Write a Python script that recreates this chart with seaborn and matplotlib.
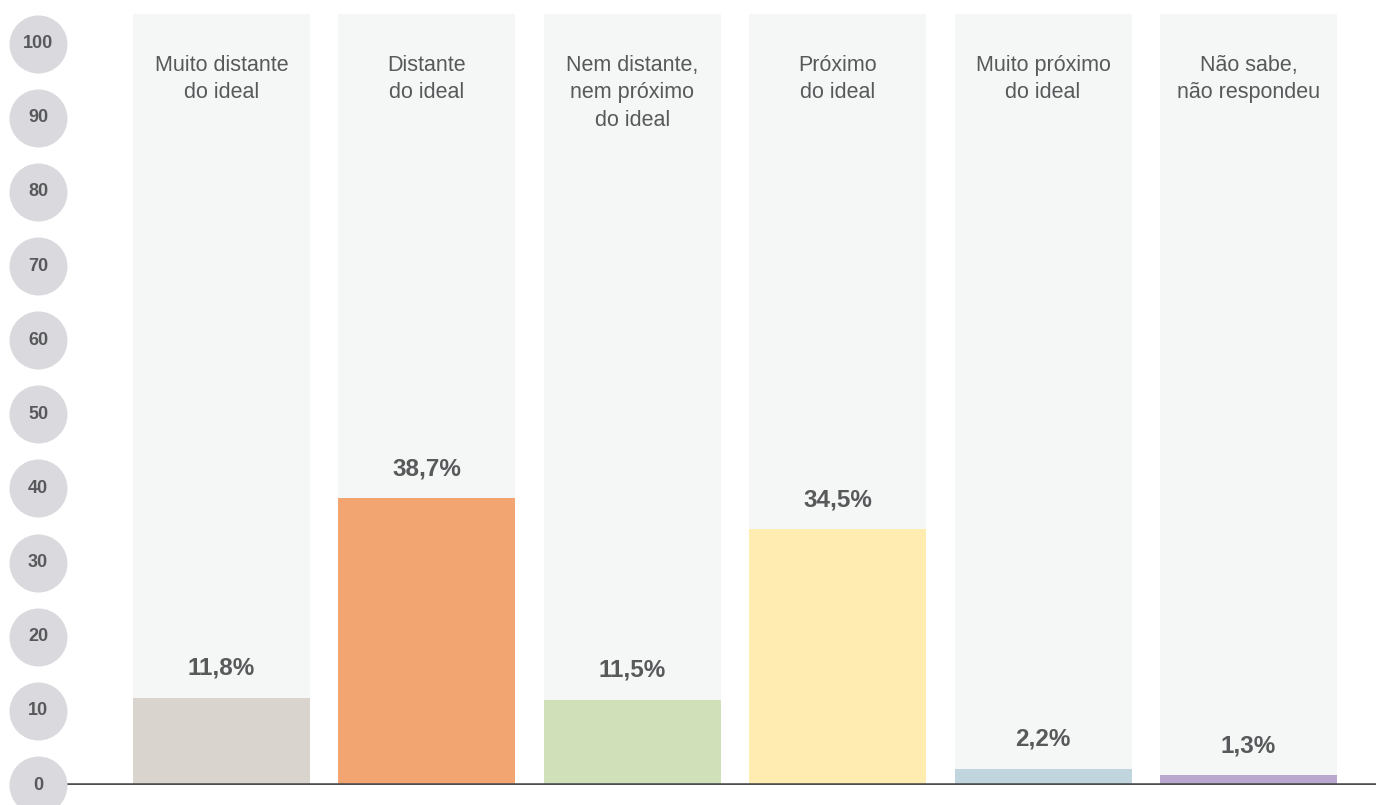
import matplotlib
matplotlib.use("Agg")
import matplotlib.pyplot as plt
import seaborn as sns
import pandas as pd

categories = [
    "Muito distante\ndo ideal",
    "Distante\ndo ideal",
    "Nem distante,\nnem próximo\ndo ideal",
    "Próximo\ndo ideal",
    "Muito próximo\ndo ideal",
    "Não sabe,\nnão respondeu",
]
values = [11.8, 38.7, 11.5, 34.5, 2.2, 1.3]
value_labels = ["11,8%", "38,7%", "11,5%", "34,5%", "2,2%", "1,3%"]
bar_colors = ["#d9d4cd", "#f2a571", "#d0e0b8", "#feecb0", "#c0d5de", "#b9a7d0"]
y_ticks = [0, 10, 20, 30, 40, 50, 60, 70, 80, 90, 100]

sns.set_theme(style="white")
plt.rcParams["font.family"] = ["Liberation Sans Narrow", "Liberation Sans", "DejaVu Sans"]

TEXT = "#58595b"
W, H = 1376, 805
fig = plt.figure(figsize=(W / 100, H / 100), dpi=100)
ax = fig.add_axes([67 / W, 20 / H, (W - 67) / W, (805 - 20 - 14) / H])

df = pd.DataFrame({"cat": categories, "val": values, "full": [104] * len(values)})

# full-height pale columns behind each bar
sns.barplot(data=df, x="cat", y="full", color="#f5f7f6", width=0.862,
            saturation=1, linewidth=0, ax=ax, zorder=1)
sns.barplot(data=df, x="cat", y="val", hue="cat", palette=bar_colors,
            width=0.862, saturation=1, linewidth=0, legend=False, ax=ax, zorder=2)

ax.set_xlim(-0.752, 5.621)
ax.set_ylim(0, 104)
for s in ax.spines.values():
    s.set_visible(False)
ax.axhline(0, color="#4d4e50", lw=2.6, zorder=3)

# category names inside the top of each column, values above each bar
for i, name in enumerate(categories):
    ax.text(i, 98.5, name, ha="center", va="top", fontsize=15.5,
            color=TEXT, linespacing=1.4, zorder=4)
    ax.text(i, values[i] + 2.4, value_labels[i], ha="center", va="bottom",
            fontsize=17.5, fontweight="bold", color=TEXT, zorder=4)

# round grey markers behind the y tick labels
xc = -0.752 - 29 / 205.4
ax.scatter([xc] * len(y_ticks), y_ticks, s=1745, color="#dadade",
           clip_on=False, zorder=5, linewidths=0)
for t in y_ticks:
    ax.text(xc, t, str(t), ha="center", va="center", fontsize=13,
            fontweight="bold", color=TEXT, zorder=6, clip_on=False)

ax.set_xticks([])
ax.set_yticks([])
ax.set_xlabel("")
ax.set_ylabel("")

fig.savefig("out.png", dpi=100)
